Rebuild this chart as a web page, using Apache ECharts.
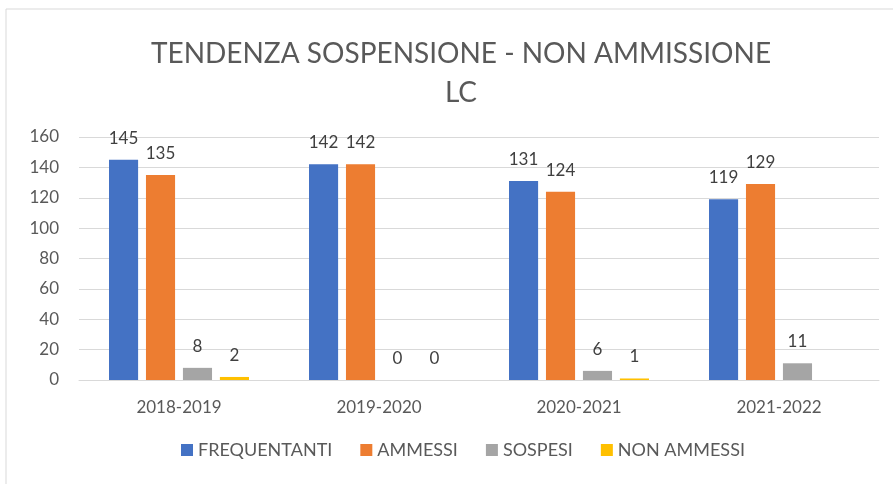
<!DOCTYPE html>
<html>
<head>
<meta charset="utf-8">
<script src="https://cdn.jsdelivr.net/npm/echarts@6/dist/echarts.min.js"></script>
<style>
  html, body { margin: 0; padding: 0; background: #fff; }
  #chart { width: 893px; height: 484px; }
</style>
</head>
<body>
<div id="chart"></div>
<script>
const categories = ['2018-2019', '2019-2020', '2020-2021', '2021-2022']
const frequentanti = [145, 142, 131, 119]
const ammessi = [135, 142, 124, 129]
const sospesi = [8, 0, 6, 11]
const nonAmmessi = [2, 0, 1, null]
const seriesNames = ['FREQUENTANTI', 'AMMESSI', 'SOSPESI', 'NON AMMESSI']
const colors = ['#4472c4', '#ed7d31', '#a5a5a5', '#ffc000']

const font = 'Lato, "Open Sans", sans-serif'
const chart = echarts.init(document.getElementById('chart'))

function barSeries(name, data, color) {
  return {
    name: name,
    type: 'bar',
    data: data,
    barGap: '27%',
    barCategoryGap: '30%',
    itemStyle: { color: color },
    label: {
      show: true,
      position: 'top',
      distance: 13,
      color: '#404040',
      fontSize: 17,
      fontFamily: font
    }
  }
}

chart.setOption({
  animation: false,
  graphic: [{
    type: 'rect',
    shape: { x: 6, y: 9, width: 900, height: 490 },
    style: { fill: 'none', stroke: '#d9d9d9', lineWidth: 1 },
    silent: true
  }],
  title: {
    text: 'TENDENZA SOSPENSIONE - NON AMMISSIONE\nLC',
    left: 456,
    textAlign: 'center',
    top: 29,
    textStyle: {
      color: '#595959',
      fontSize: 28,
      fontWeight: 'normal',
      fontFamily: font,
      lineHeight: 39
    }
  },
  legend: {
    data: seriesNames,
    bottom: 20,
    left: 176,
    icon: 'rect',
    itemWidth: 12,
    itemHeight: 12,
    itemGap: 28,
    textStyle: { color: '#595959', fontSize: 18, fontFamily: font }
  },
  grid: { left: 79, right: 14, top: 137, bottom: 104 },
  xAxis: {
    type: 'category',
    data: categories,
    axisLine: { lineStyle: { color: '#d9d9d9' } },
    axisTick: { show: false },
    axisLabel: { color: '#595959', fontSize: 17, fontFamily: font, margin: 19 }
  },
  yAxis: {
    type: 'value',
    min: 0,
    max: 160,
    interval: 20,
    axisLine: { show: false },
    axisTick: { show: false },
    axisLabel: { color: '#595959', fontSize: 17, fontFamily: font, margin: 20 },
    splitLine: { lineStyle: { color: '#d9d9d9' } }
  },
  series: [
    barSeries(seriesNames[0], frequentanti, colors[0]),
    barSeries(seriesNames[1], ammessi, colors[1]),
    barSeries(seriesNames[2], sospesi, colors[2]),
    barSeries(seriesNames[3], nonAmmessi, colors[3])
  ]
})
</script>
</body>
</html>
